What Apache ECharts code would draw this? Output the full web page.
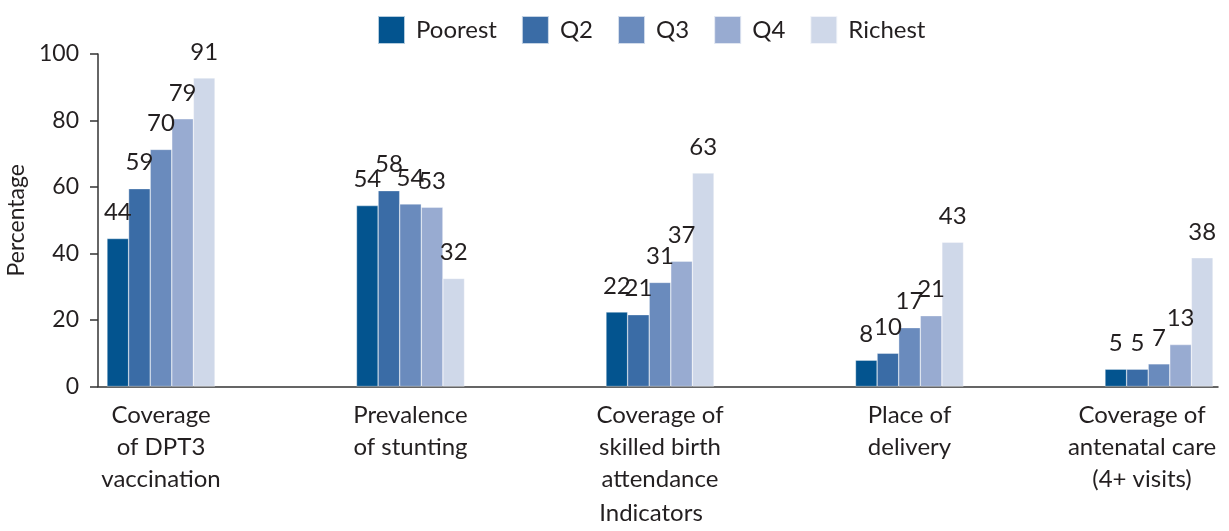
<!DOCTYPE html>
<html>
<head>
<meta charset="utf-8">
<script src="https://cdn.jsdelivr.net/npm/echarts@6/dist/echarts.min.js"></script>
<style>
html,body{margin:0;padding:0;background:#fff;}
#c{width:1229px;height:531px;}
</style>
</head>
<body>
<div id="c"></div>
<script>
var categories = [
  "Coverage\nof DPT3\nvaccination",
  "Prevalence\nof stunting",
  "Coverage of\nskilled birth\nattendance",
  "Place of\ndelivery",
  "Coverage of\nantenatal care\n(4+ visits)"
];
var seriesNames = ["Poorest", "Q2", "Q3", "Q4", "Richest"];
var colors = ["#03548f", "#3a6ca6", "#6a8bbd", "#98abd1", "#cfd8e9"];

// bar heights as drawn
var poorest = [44.5, 54.4, 22.4, 7.9, 5.2];
var q2      = [59.5, 58.9, 21.6, 10.0, 5.2];
var q3      = [71.3, 54.9, 31.3, 17.7, 6.8];
var q4      = [80.5, 53.9, 37.7, 21.3, 12.6];
var richest = [92.8, 32.5, 64.2, 43.4, 38.7];

// printed value labels
var poorestLbl = [44, 54, 22, 8, 5];
var q2Lbl      = [59, 58, 21, 10, 5];
var q3Lbl      = [70, 54, 31, 17, 7];
var q4Lbl      = [79, 53, 37, 21, 13];
var richestLbl = [91, 32, 63, 43, 38];

var yTicks = [0, 20, 40, 60, 80, 100];

var values = [poorest, q2, q3, q4, richest];
var labels = [poorestLbl, q2Lbl, q3Lbl, q4Lbl, richestLbl];

var FONT = "Lato, 'DejaVu Sans', sans-serif";
var TXT = "#231f20";

var catData = categories.map(function (c, i) {
  if (i === categories.length - 1) {
    return { value: c, textStyle: { padding: [0, 34, 0, 0] } };
  }
  return c;
});

var series = seriesNames.map(function (name, s) {
  return {
    name: name,
    type: "bar",
    xAxisIndex: 1,
    yAxisIndex: 1,
    barWidth: 21.6,
    barGap: "0%",
    data: values[s],
    itemStyle: { color: colors[s], borderColor: "rgba(255,255,255,0.7)", borderWidth: 0.5 },
    label: {
      show: true,
      position: "top",
      distance: 14,
      fontFamily: FONT,
      fontSize: 24,
      color: TXT,
      formatter: function (p) { return String(labels[s][p.dataIndex]); }
    }
  };
});

var chart = echarts.init(document.getElementById("c"), null, { renderer: "canvas" });
chart.setOption({
  animation: false,
  backgroundColor: "#fff",
  textStyle: { fontFamily: FONT },
  color: colors,
  legend: {
    top: 10,
    left: 372,
    itemWidth: 27,
    itemHeight: 28,
    itemGap: 24,
    icon: "rect",
    textStyle: { fontFamily: FONT, fontSize: 24, color: TXT, padding: [0, 0, 0, 6] },
    data: seriesNames
  },
  grid: [
    { left: 98, right: 11, top: 54, bottom: 144.5, outerBoundsMode: "none", containLabel: false },
    { left: 161, right: 70, top: 54, bottom: 144.5, outerBoundsMode: "none", containLabel: false }
  ],
  xAxis: [
    {
      gridIndex: 0, type: "value", min: 0, max: 1,
      axisLine: { show: true, lineStyle: { color: "#333", width: 1.5 } },
      axisTick: { show: false }, axisLabel: { show: false }, splitLine: { show: false }
    },
    {
      gridIndex: 1, type: "category", boundaryGap: false, data: catData,
      axisLine: { show: false }, axisTick: { show: false }, splitLine: { show: false },
      axisLabel: {
        interval: 0, margin: 12.5, fontFamily: FONT, fontSize: 24, lineHeight: 32,
        color: TXT, align: "center"
      },
      name: "Indicators", nameLocation: "middle", nameGap: 115,
      nameTextStyle: { fontFamily: FONT, fontSize: 24, color: TXT, padding: [0, 18, 0, 0] }
    }
  ],
  yAxis: [
    {
      gridIndex: 0, type: "value", min: yTicks[0], max: yTicks[yTicks.length - 1], interval: 20,
      axisLine: { show: true, lineStyle: { color: "#333", width: 1.5 } },
      axisTick: { show: true, inside: false, length: 8, lineStyle: { color: "#333", width: 1.5 } },
      axisLabel: { margin: 19, fontFamily: FONT, fontSize: 23, color: TXT },
      splitLine: { show: false },
      name: "Percentage", nameLocation: "middle", nameGap: 65, nameRotate: 90,
      nameTextStyle: { fontFamily: FONT, fontSize: 23, color: TXT }
    },
    {
      gridIndex: 1, type: "value", min: 0, max: 100, show: false,
      splitLine: { show: false }
    }
  ],
  series: series
});
</script>
</body>
</html>
